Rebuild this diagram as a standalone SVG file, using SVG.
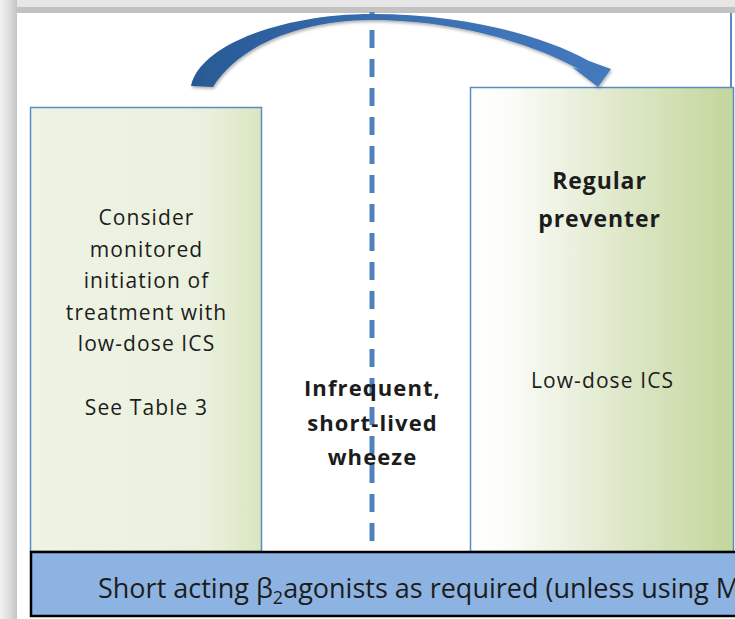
<svg xmlns="http://www.w3.org/2000/svg" width="735" height="619" viewBox="0 0 735 619">
<style>
.box{stroke:#5b8ac6;stroke-width:1.5}
.t{font-family:"Open Sans","Liberation Sans",Arial,sans-serif;fill:#1c1c1c;text-anchor:middle}
.n{font-size:21px;letter-spacing:1.1px}
.b{font-size:23px;font-weight:bold;letter-spacing:0.9px}
.m{font-size:22px;font-weight:bold;letter-spacing:1.1px}
</style>
<defs>
<linearGradient id="gl" x1="0" y1="0" x2="1" y2="0">
<stop offset="0" stop-color="#eef3e4"/>
<stop offset="0.75" stop-color="#ebf1de"/>
<stop offset="1" stop-color="#dae6c0"/>
</linearGradient>
<linearGradient id="gr" x1="0" y1="0" x2="1" y2="0">
<stop offset="0" stop-color="#ffffff"/>
<stop offset="0.15" stop-color="#fbfcf8"/>
<stop offset="0.55" stop-color="#e0e9cc"/>
<stop offset="1" stop-color="#c3d69b"/>
</linearGradient>
<linearGradient id="ga" x1="0" y1="0" x2="1" y2="0">
<stop offset="0" stop-color="#285995"/>
<stop offset="0.5" stop-color="#3a6fb2"/>
<stop offset="1" stop-color="#4479bd"/>
</linearGradient>
<linearGradient id="gleft" x1="0" y1="0" x2="1" y2="0">
<stop offset="0" stop-color="#f2f2f2"/>
<stop offset="0.6" stop-color="#dadada"/>
<stop offset="1" stop-color="#c4c4c4"/>
</linearGradient>
<filter id="sh" x="-10%" y="-10%" width="120%" height="140%">
<feDropShadow dx="1" dy="2" stdDeviation="1.5" flood-color="#000" flood-opacity="0.3"/>
</filter>
</defs>
<rect width="735" height="619" fill="#ffffff"/>
<!-- frame -->
<rect x="0" y="0" width="735" height="7" fill="#e6e6e6"/>
<rect x="0" y="7" width="735" height="6" fill="#c2c2c2"/>
<rect x="0" y="0" width="17" height="619" fill="url(#gleft)"/>
<line x1="731" y1="13" x2="731" y2="552" stroke="#5b8ac6" stroke-width="2"/>

<g id="node-left">
<rect class="box" x="30.5" y="107.5" width="231" height="444" fill="url(#gl)"/>
<text class="t n" x="146.5" y="225">Consider</text>
<text class="t n" x="146.5" y="257">monitored</text>
<text class="t n" x="146.5" y="288">initiation of</text>
<text class="t n" x="146.5" y="320">treatment with</text>
<text class="t n" x="146.5" y="351">low-dose ICS</text>
<text class="t n" x="146.5" y="415">See Table 3</text>
</g>

<g id="node-right">
<rect class="box" x="470.5" y="87.5" width="263" height="464" fill="url(#gr)"/>
<text class="t b" x="599.5" y="189">Regular</text>
<text class="t b" x="599.5" y="227">preventer</text>
<text class="t n" x="602.5" y="388">Low-dose ICS</text>
</g>

<g id="connectors">
<line id="divider" x1="372" y1="12" x2="372" y2="552" stroke="#4f81bd" stroke-width="5" stroke-dasharray="18 11" stroke-dashoffset="11"/>
<path id="arrow" filter="url(#sh)" fill="url(#ga)" d="M191,86 C200,44 285,14 372,14 C460,14 540,34 589,61 L611,69 L598,87 L572,67 L580,70 C535,44 455,20 372,20 C300,20 238,46 213,87 Z"/>
</g>

<g id="node-middle">
<text class="t m" x="372.5" y="396">Infrequent,</text>
<text class="t m" x="372.5" y="431">short-lived</text>
<text class="t m" x="372.5" y="465">wheeze</text>
</g>

<g id="node-bar">
<rect x="31" y="552" width="720" height="64" fill="#8db3e2" stroke="#000" stroke-width="2.5"/>
<text x="98" y="598" font-family="'Open Sans','Liberation Sans',Arial,sans-serif" font-size="27" fill="#1c1c1c">Short acting β<tspan font-size="18" dy="6">2</tspan><tspan dy="-6">agonists as required (unless using M</tspan></text>
</g>
</svg>
